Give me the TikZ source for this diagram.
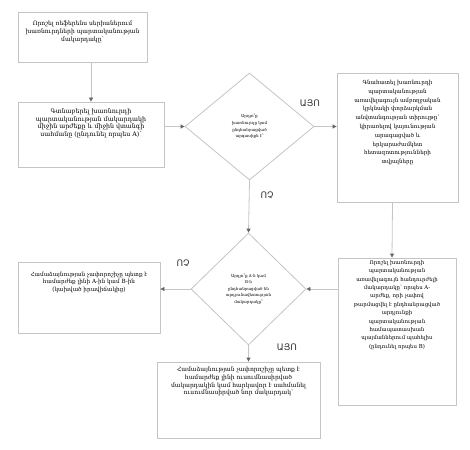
\documentclass[tikz,border=0pt]{standalone}
\usepackage{fontspec}
\setmainfont{DejaVu Serif}
\newfontfamily\lblfont{DejaVu Sans}
\usetikzlibrary{shapes.geometric,arrows.meta}
\definecolor{edgegray}{HTML}{C4C4C4}
\definecolor{tipgray}{HTML}{666666}
\tikzset{
  x=1pt,y=-1pt,
  boxnode/.style={draw=edgegray,line width=0.8pt,rectangle,inner sep=0pt},
  boxtext/.style={anchor=north,align=center,inner sep=0pt,font=\fontsize{5.7}{7.6}\selectfont},
  decision/.style={draw=edgegray,line width=0.8pt,diamond,inner sep=0pt,align=center,font=\fontsize{4}{6.6}\selectfont},
  conn/.style={draw=edgegray,line width=0.8pt,-{Triangle[width=4pt,length=4pt,color=tipgray,fill=tipgray]}},
  answer/.style={font=\lblfont\fontsize{9}{10}\selectfont,text=black!80,inner sep=0pt}
}
\begin{document}
\begin{tikzpicture}
\useasboundingbox (0,0) rectangle (470,449);
% boxes
\node[boxnode,minimum width=129pt,minimum height=50pt] (b1) at (82.5,37.5) {};
\node[boxtext,font=\fontsize{6}{8}\selectfont] (t1) at (82.5,20.5) {Որոշել ռեֆերենս սերիաներում\\խառնուրդների պարտականության\\մակարդակը՝};
\node[boxnode,minimum width=146pt,minimum height=65pt] (b2) at (91,134.5) {};
\node[boxtext,font=\fontsize{6.3}{7.6}\selectfont] (t2) at (91,108.5) {Գտնաբերել խառնուրդի\\պարտականության մակարդակի\\միջին արժեքը և միջին վտանգի\\սահմանը (ընդունել որպես A)՝};
\node[decision,minimum width=129pt,minimum height=107pt] (d1) at (249.5,126.5) {Արդյո՞ք\\խառնուրդը կամ\\ընդհանրացված\\արգասիքն է՞};
\node[boxnode,minimum width=121pt,minimum height=129pt] (b3) at (397.5,137.5) {};
\node[boxtext,font=\fontsize{5.6}{8.8}\selectfont] (t3) at (397.5,80) {Գնահատել խառնուրդի\\պարտականության\\առավելագույն ամբողջական\\կրկնակի փորձարկման\\անվտանգության տիրույթը՝\\կիրառելով կայունության\\արագացված և\\երկարաժամկետ\\հետազոտությունների\\տվյալները};
\node[boxnode,minimum width=118pt,minimum height=147pt] (b4) at (397,331.5) {};
\node[boxtext,font=\fontsize{5.4}{8.4}\selectfont] (t4) at (397,260) {Որոշել խառնուրդի\\պարտականության\\առավելագույն հանդուրժելի\\մակարդակը՝ որպես A-\\արժեք, որի չափով\\թարմացվել է ընդհանրացված\\արդյունքի\\պարտականության\\համապատասխան\\պայմաններում պահելիս\\(ընդունել որպես B)};
\node[decision,minimum width=115pt,minimum height=112pt] (d2) at (248.5,289) {Արդյո՞ք A-ն կամ\\B-ն\\ընդհանրացված են\\արդյունավետության\\մակարդակը՞};
\node[boxnode,minimum width=142pt,minimum height=71pt] (b5) at (89,297.5) {};
\node[boxtext] (t5) at (89,271.5) {Համաձայնության չափորոշիչը պետք է\\համարժեք լինի A-ին կամ B-ին\\(կախված իրավիճակից)};
\node[boxnode,minimum width=163pt,minimum height=76pt] (b6) at (238.5,400) {};
\node[boxtext,font=\fontsize{6}{7.6}\selectfont] (t6) at (238.5,367) {Համաձայնության չափորոշիչը պետք է\\համարժեք լինի ուսումնասիրված\\մակարդակին կամ հարկավոր է սահմանել\\ուսումնասիրված նոր մակարդակ՝};
% connectors
\draw[conn] (b1.south -| b2.north) -- (b2.north);
\draw[conn] (b2.east |- d1.west) -- (d1.west);
\draw[conn] (d1.east) -- (d1.east -| b3.west);
\draw[conn] ([xshift=-5pt]b3.south) -- ([xshift=-5pt]b4.north);
\draw[conn] (d1.south) -- (d2.north);
\draw[conn] (b4.west |- d2.east) -- (d2.east);
\draw[conn] (d2.west) -- (d2.west -| b5.east);
\draw[conn] (d2.south) -- (d2.south |- b6.north);
% answer labels
\node[answer] (yes1) at (310,103) {ԱՅՈ};
\node[answer] (no1) at (267,195) {ՈՉ};
\node[answer] (no2) at (183,263) {ՈՉ};
\node[answer] (yes2) at (287,347) {ԱՅՈ};
\end{tikzpicture}
\end{document}
